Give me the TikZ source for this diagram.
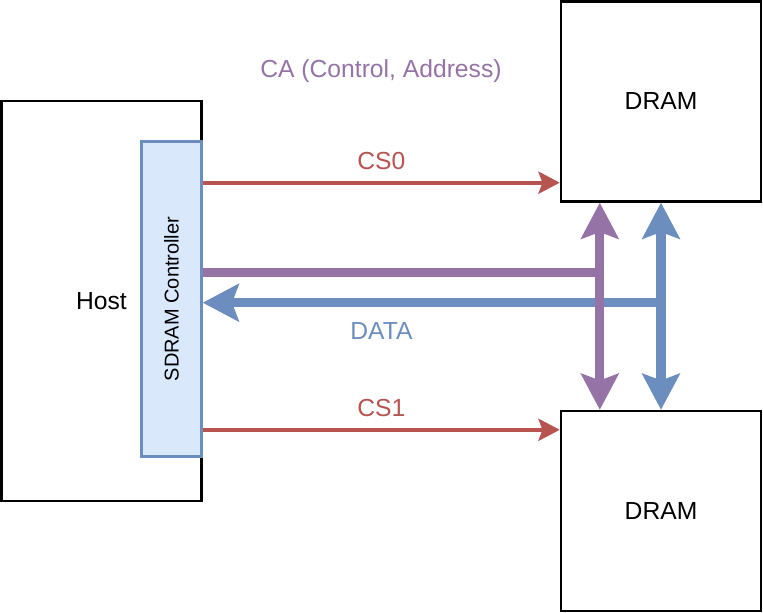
\documentclass[tikz,border=0pt]{standalone}
\usepackage{fontspec}
\setmainfont{Liberation Sans}
\usepackage{graphicx}
\usepackage{xcolor}
\usetikzlibrary{calc, arrows.meta, positioning}

\definecolor{csred}{HTML}{B85450}
\definecolor{capurple}{HTML}{9673A6}
\definecolor{datablue}{HTML}{6C8EBF}
\definecolor{ctrlfill}{HTML}{DAE8FC}

\tikzset{bigtip/.tip={Stealth[length=27pt, width=28pt, inset=5pt]}}

\begin{document}
\begin{tikzpicture}[x=0.75pt, y=-0.75pt,
	every node/.style={font=\fontsize{18.5}{22}\selectfont},
	box/.style={draw, line width=1.8pt, minimum width=150pt, minimum height=150pt},
	ctrlbox/.style={draw=datablue, fill=ctrlfill, line width=1.8pt, minimum width=45pt, minimum height=236.25pt},
	csline/.style={csred, line width=3pt, -{Stealth[length=16pt, width=16.5pt, inset=3pt]}},
	bus/.style={line width=7pt}]
		\useasboundingbox (0,0) rectangle (763,613);
		% Host and controller
		\node[box, minimum height=300pt] (host) at (101.5,301) {Host};
		\node[ctrlbox] (ctrl) at (171.5,299) {\fontsize{15}{18}\selectfont\rotatebox{90}{SDRAM Controller}};
		% DRAM chips
		\node[box] (dramA) at (661,101.5) {DRAM};
		\node[box] (dramB) at (661,511) {DRAM};
		% Bus points
		\coordinate (cs0) at ($(dramA.south west)+(0,-20)$);
		\coordinate (cs1) at ($(dramB.north west)+(0,20)$);
		\coordinate (cabus) at ($(dramA.south west)+(40,70)$);
		\coordinate (databus) at ($(dramA.south)+(0,100)$);
		% Chip selects
		\draw[csline] (ctrl.east |- cs0) -- node[midway, above=5pt, text=csred] (cs0lbl) {CS0} (cs0);
		\draw[csline] (ctrl.east |- cs1) -- node[midway, above=5pt, text=csred] (cs1lbl) {CS1} (cs1);
		% Data bus
		\draw[bus, datablue, -bigtip] (databus) -- node[pos=.61, below=8pt] (datalbl) {DATA} (ctrl.east |- databus);
		\draw[bus, datablue, bigtip-bigtip] (databus |- dramA.south) -- (databus |- dramB.north);
		% Control / address bus
		\draw[bus, capurple] (ctrl.east |- cabus) -- (cabus);
		\draw[bus, capurple, bigtip-bigtip] (cabus |- dramA.south) -- (cabus |- dramB.north);
		\node[text=capurple] (calbl) at (381,71) {CA (Control, Address)};
	\end{tikzpicture}
\end{document}
